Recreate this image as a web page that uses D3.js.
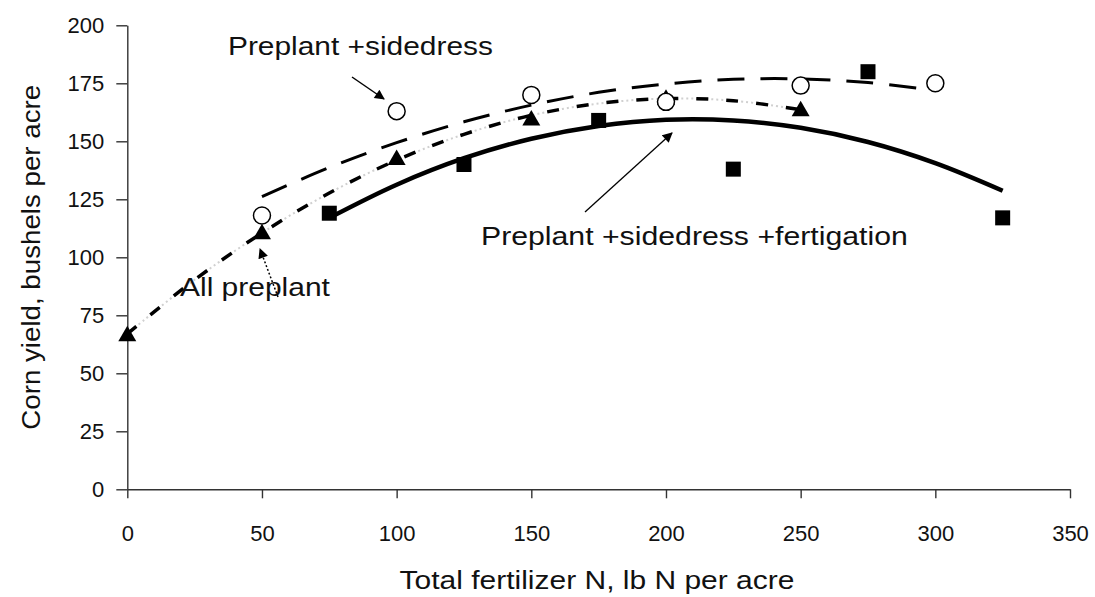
<!DOCTYPE html>
<html><head><meta charset="utf-8">
<script src="https://cdn.jsdelivr.net/npm/d3@7"></script>
<style>body{margin:0;background:#fff;} text{font-family:Arial,"Liberation Sans",sans-serif;fill:#111;}</style>
</head><body><svg id="c" width="1095" height="597"></svg>
<script>
// ---- data ----
const xTicks = [0, 50, 100, 150, 200, 250, 300, 350];
const yTicks = [0, 25, 50, 75, 100, 125, 150, 175, 200];
const seriesNames = ["Preplant +sidedress", "All preplant", "Preplant +sidedress +fertigation"];
// observed points
const sidedressN = [50, 100, 150, 200, 250, 300];
const sidedressYield = [118, 163, 170, 167, 174, 175];
const preplantN = [0, 50, 100, 150, 200, 250];
const preplantYield = [66, 110, 142, 159, 168, 163];
const fertigationN = [75, 125, 175, 225, 275, 325];
const fertigationYield = [119, 140, 159, 138, 180, 117];
// trend curves
const sidedressCurveN = [50, 75, 100, 125, 150, 175, 200, 225, 250, 275, 300];
const sidedressCurveY = [126.2, 138.7, 149.4, 158.4, 165.6, 171.1, 174.7, 176.7, 176.9, 175.3, 171.9];
const preplantCurveN = [0, 25, 50, 75, 100, 125, 150, 175, 200, 225, 250];
const preplantCurveY = [67, 90.3, 110.5, 127.7, 141.9, 153.0, 161.2, 166.3, 168.4, 167.5, 163.6];
const fertigationCurveN = [75, 100, 125, 150, 175, 200, 225, 250, 275, 300, 325];
const fertigationCurveY = [117.0, 131.3, 142.7, 151.1, 156.6, 159.3, 159.0, 155.8, 149.7, 140.6, 128.7];

// ---- chart ----
const svg = d3.select("#c");
const x = d3.scaleLinear().domain([0, 350]).range([127.3, 1070]);
const y = d3.scaleLinear().domain([0, 200]).range([489.3, 25.3]);

const defs = svg.append("defs");
defs.append("marker").attr("id", "ah").attr("viewBox", "0 0 10 10").attr("refX", 9).attr("refY", 5)
  .attr("markerWidth", 12).attr("markerHeight", 10).attr("markerUnits", "userSpaceOnUse").attr("orient", "auto")
  .append("path").attr("d", "M0,0 L10,5 L0,10 Z").attr("fill", "#000");

// stretch a text horizontally (in its own frame) to a given width, keeping its anchor
function fitWidth(t, w, anchor) {
  const len = t.node().getComputedTextLength();
  const s = w / len;
  const tx = +t.attr("x"), ty = +t.attr("y");
  const ax = anchor === "middle" ? tx : tx;
  t.attr("transform", `translate(${ax},${ty}) scale(${s},1) translate(${-ax},${-ty})`);
}

// axes
const yAxis = svg.append("g").attr("transform", `translate(${x(0)},0)`)
  .call(d3.axisLeft(y).tickValues(yTicks).tickSize(11).tickPadding(12).tickSizeOuter(0));
const xAxis = svg.append("g").attr("transform", `translate(0,${y(0)})`)
  .call(d3.axisBottom(x).tickValues(xTicks).tickSize(9).tickPadding(27).tickSizeOuter(0));
[xAxis, yAxis].forEach(g => {
  g.selectAll("path.domain").attr("stroke", "#333").attr("stroke-width", 1.4);
  g.selectAll(".tick line").attr("stroke", "#333").attr("stroke-width", 1.4);
  g.selectAll(".tick text").attr("font-size", 22).attr("fill", "#111")
   .style("font-family", "Arial, 'Liberation Sans', sans-serif");
});

const xt = svg.append("text").attr("x", 597).attr("y", 589).attr("text-anchor", "middle")
  .attr("font-size", 25).text("Total fertilizer N, lb N per acre");
fitWidth(xt, 395, "middle");
const yc = (y(0) + y(200)) / 2;
const ytg = svg.append("g").attr("transform", `translate(40,${yc}) rotate(-90)`);
const yt = ytg.append("text").attr("x", 0).attr("y", 0).attr("text-anchor", "middle")
  .attr("font-size", 25).text("Corn yield, bushels per acre");
fitWidth(yt, 345, "middle");

// curves
const line = d3.line().x(d => x(d[0])).y(d => y(d[1])).curve(d3.curveCatmullRom);
const ppCurve = d3.zip(preplantCurveN, preplantCurveY);
svg.append("path").attr("d", line(ppCurve)).attr("fill", "none")
  .attr("stroke", "#d0d0d0").attr("stroke-width", 2).attr("stroke-dasharray", "2,3");
svg.append("path").attr("d", line(ppCurve)).attr("fill", "none")
  .attr("stroke", "#000").attr("stroke-width", 3.5).attr("stroke-dasharray", "12,18");
svg.append("path").attr("d", line(d3.zip(sidedressCurveN, sidedressCurveY))).attr("fill", "none")
  .attr("stroke", "#000").attr("stroke-width", 3).attr("stroke-dasharray", "27,16");
svg.append("path").attr("d", line(d3.zip(fertigationCurveN, fertigationCurveY))).attr("fill", "none")
  .attr("stroke", "#000").attr("stroke-width", 4.5);

// markers
svg.append("g").selectAll("path").data(d3.zip(preplantN, preplantYield)).join("path")
  .attr("transform", d => `translate(${x(d[0])},${y(d[1])})`)
  .attr("d", d3.symbol(d3.symbolTriangle, 140)).attr("fill", "#000");
svg.append("g").selectAll("rect").data(d3.zip(fertigationN, fertigationYield)).join("rect")
  .attr("x", d => x(d[0]) - 7.5).attr("y", d => y(d[1]) - 7.5).attr("width", 15).attr("height", 15).attr("fill", "#000");
svg.append("g").selectAll("circle").data(d3.zip(sidedressN, sidedressYield)).join("circle")
  .attr("cx", d => x(d[0])).attr("cy", d => y(d[1])).attr("r", 8.5)
  .attr("fill", "#fff").attr("stroke", "#000").attr("stroke-width", 1.5);

// annotations
const a1 = svg.append("text").attr("x", 228).attr("y", 55).attr("font-size", 26).text(seriesNames[0]);
fitWidth(a1, 265);
svg.append("line").attr("x1", 352).attr("y1", 77).attr("x2", 384).attr("y2", 99)
  .attr("stroke", "#000").attr("stroke-width", 1.5).attr("marker-end", "url(#ah)");
const a2 = svg.append("text").attr("x", 180).attr("y", 296).attr("font-size", 26).text(seriesNames[1]);
fitWidth(a2, 150);
svg.append("line").attr("x1", 278).attr("y1", 297).attr("x2", 260).attr("y2", 249)
  .attr("stroke", "#000").attr("stroke-width", 1.5).attr("stroke-dasharray", "2,2").attr("marker-end", "url(#ah)");
const a3 = svg.append("text").attr("x", 481).attr("y", 245).attr("font-size", 26).text(seriesNames[2]);
fitWidth(a3, 427);
svg.append("line").attr("x1", 585).attr("y1", 212).attr("x2", 672).attr("y2", 133)
  .attr("stroke", "#000").attr("stroke-width", 1.3).attr("marker-end", "url(#ah)");
</script></body></html>
